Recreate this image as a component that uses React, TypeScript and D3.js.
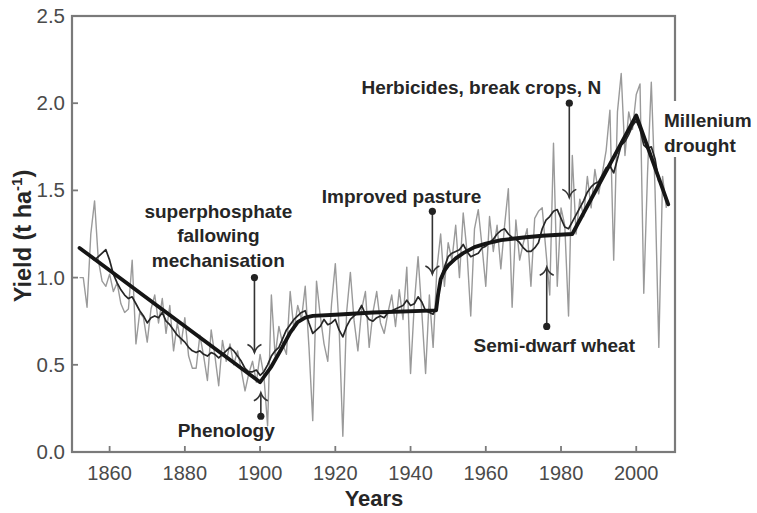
import React from "react";
import * as d3 from "d3";

// ---- data ----
const annualYears: number[] = d3.range(1852, 2009);
const annualYield: number[] = [
  1.0, 1.0, 0.83, 1.25, 1.44, 1.1, 0.98, 0.95, 1.02, 0.92, // 1852-1861
  0.97, 0.85, 0.8, 0.82, 1.1, 0.62, 0.8, 0.77, 0.63, 0.82, // 1862-1871
  0.9, 0.74, 0.88, 0.68, 0.84, 0.58, 0.74, 0.62, 0.77, 0.55, // 1872-1881
  0.48, 0.48, 0.67, 0.55, 0.41, 0.7, 0.55, 0.38, 0.64, 0.52, // 1882-1891
  0.62, 0.5, 0.58, 0.47, 0.35, 0.45, 0.52, 0.4, 0.56, 0.44, // 1892-1901
  0.15, 0.9, 0.55, 0.72, 0.62, 0.56, 0.92, 0.7, 0.84, 0.76, // 1902-1911
  0.95, 0.6, 0.18, 0.98, 0.78, 0.62, 0.52, 0.85, 1.08, 0.72, // 1912-1921
  0.09, 0.8, 1.03, 0.75, 0.58, 0.82, 0.92, 0.6, 0.8, 0.92, // 1922-1931
  0.74, 0.68, 0.8, 0.9, 0.72, 0.93, 0.76, 1.06, 0.45, 0.85, // 1932-1941
  1.12, 0.8, 0.45, 0.9, 0.6, 1.05, 1.25, 0.95, 1.2, 1.1, // 1942-1951
  1.3, 1.0, 1.37, 1.15, 0.78, 1.28, 1.39, 1.18, 0.95, 1.35, // 1952-1961
  1.15, 1.3, 1.05, 1.3, 1.51, 0.83, 1.33, 1.1, 1.2, 1.28, // 1962-1971
  0.95, 1.34, 1.38, 1.4, 1.15, 0.9, 1.77, 0.95, 1.4, 1.3, // 1972-1981
  0.78, 1.7, 1.25, 1.45, 1.35, 1.58, 1.4, 1.62, 1.48, 1.6, // 1982-1991
  1.73, 1.96, 1.1, 1.95, 2.17, 1.7, 1.95, 1.85, 2.05, 2.11, // 1992-2001
  0.91, 1.6, 2.12, 1.5, 0.6, 1.58, 1.4, // 2002-2008
];

const smoothYears: number[] = d3.range(1855, 2007);
const smoothYield: number[] = [
  1.12, 1.1, 1.12, 1.14, 1.16, 1.1, 1.02, 0.97, 0.93, 0.9, // 1855-1864
  0.88, 0.89, 0.85, 0.81, 0.78, 0.74, 0.77, 0.78, 0.77, 0.8, // 1865-1874
  0.75, 0.73, 0.7, 0.67, 0.65, 0.63, 0.6, 0.58, 0.57, 0.58, // 1875-1884
  0.56, 0.55, 0.57, 0.56, 0.54, 0.56, 0.58, 0.6, 0.58, 0.55, // 1885-1894
  0.52, 0.48, 0.46, 0.46, 0.47, 0.44, 0.46, 0.5, 0.55, 0.58, // 1895-1904
  0.6, 0.65, 0.7, 0.73, 0.76, 0.78, 0.8, 0.81, 0.74, 0.68, // 1905-1914
  0.7, 0.72, 0.76, 0.73, 0.74, 0.76, 0.7, 0.66, 0.72, 0.76, // 1915-1924
  0.78, 0.8, 0.84, 0.79, 0.76, 0.75, 0.77, 0.78, 0.77, 0.8, // 1925-1934
  0.81, 0.82, 0.83, 0.84, 0.87, 0.84, 0.85, 0.89, 0.86, 0.81, // 1935-1944
  0.8, 0.79, 0.84, 0.98, 1.06, 1.12, 1.14, 1.15, 1.16, 1.19, // 1945-1954
  1.15, 1.12, 1.13, 1.14, 1.17, 1.18, 1.2, 1.22, 1.25, 1.27, // 1955-1964
  1.28, 1.25, 1.23, 1.22, 1.2, 1.17, 1.15, 1.15, 1.17, 1.2, // 1965-1974
  1.28, 1.33, 1.35, 1.38, 1.39, 1.34, 1.29, 1.28, 1.32, 1.36, // 1975-1984
  1.4, 1.44, 1.49, 1.52, 1.54, 1.55, 1.59, 1.63, 1.64, 1.6, // 1985-1994
  1.68, 1.76, 1.78, 1.82, 1.87, 1.9, 1.85, 1.76, 1.74, 1.75, // 1995-2004
  1.68, 1.55, // 2005-2006
];

const trendYears: number[] = [
  1852, 1900, 1901, 1903, 1905.5, 1908, 1910, 1912, 1914, 1920, 1930, 1946.8,
  1947.3, 1948, 1949, 1950, 1952, 1954, 1957, 1960, 1964, 1970, 1975, 1983, 2000, 2008.5,
];
const trendYield: number[] = [
  1.17, 0.4, 0.43, 0.49, 0.585, 0.685, 0.745, 0.77, 0.78, 0.787, 0.8, 0.812,
  0.9, 0.99, 1.04, 1.07, 1.11, 1.14, 1.175, 1.195, 1.215, 1.23, 1.24, 1.25, 1.93, 1.42,
];

const xTicks: number[] = [1860, 1880, 1900, 1920, 1940, 1960, 1980, 2000];
const yTicks: number[] = [0, 0.5, 1.0, 1.5, 2.0, 2.5];

// annotations
const annoLabels: string[][] = [
  ["superphosphate", "fallowing", "mechanisation"],
  ["Phenology"],
  ["Improved pasture"],
  ["Herbicides, break crops, N"],
  ["Semi-dwarf wheat"],
];
const annoTextYear: number[] = [1888.9, 1891.0, 1937.6, 1958.8, 1978.2];
const annoTextVal: number[] = [1.343, 0.085, 1.43, 2.05, 0.575];
const arrowFromYear: number[] = [1898.5, 1900.2, 1945.8, 1982.2, 1976.2];
const arrowFromVal: number[] = [1.0, 0.205, 1.38, 2.0, 0.72];
const arrowToYear: number[] = [1898.5, 1900.2, 1945.8, 1982.2, 1976.2];
const arrowToVal: number[] = [0.57, 0.34, 1.02, 1.46, 1.06];

const W = 757;
const H = 513;
const M = { left: 72, right: 675, top: 16, bottom: 452 };

export default function App() {
  const x = d3.scaleLinear().domain([1850, 2010.3]).range([M.left, M.right]);
  const y = d3.scaleLinear().domain([0, 2.5]).range([M.bottom, M.top]);

  const line = d3
    .line<[number, number]>()
    .x((d) => x(d[0]))
    .y((d) => y(d[1]));

  const annual = line(annualYears.map((yr, i) => [yr, annualYield[i]]));
  const smooth = line(smoothYears.map((yr, i) => [yr, smoothYield[i]]));
  const trend = line(trendYears.map((yr, i) => [yr, trendYield[i]]));

  const font = "'Liberation Sans', Arial, sans-serif";
  const textCol = "#262626";
  const frameCol = "#7a7a7a";

  return (
    <svg
      width={W}
      height={H}
      style={{ position: "absolute", left: 0, top: 0, background: "#fff" }}
      fontFamily={font}
    >
      <rect x={0} y={0} width={W} height={H} fill="#fff" />
      {/* data */}
      <path d={annual || ""} fill="none" stroke="#9a9a9a" strokeWidth={1.4} strokeLinejoin="round" />
      <path d={smooth || ""} fill="none" stroke="#262626" strokeWidth={1.7} strokeLinejoin="round" />
      <path d={trend || ""} fill="none" stroke="#151515" strokeWidth={3.8} strokeLinejoin="round" strokeLinecap="round" />

      {/* frame */}
      <rect
        x={M.left}
        y={M.top}
        width={M.right - M.left}
        height={M.bottom - M.top}
        fill="none"
        stroke={frameCol}
        strokeWidth={2.2}
      />
      {/* x ticks */}
      {xTicks.map((t) => (
        <g key={"x" + t}>
          <line x1={x(t)} x2={x(t)} y1={M.bottom} y2={M.bottom - 6} stroke={frameCol} strokeWidth={1.8} />
          <text x={x(t)} y={480} textAnchor="middle" fontSize={20} fill="#4a4a4a">
            {t}
          </text>
        </g>
      ))}
      {/* y ticks */}
      {yTicks.map((t) => (
        <g key={"y" + t}>
          <line x1={M.left} x2={M.left + 6} y1={y(t)} y2={y(t)} stroke={frameCol} strokeWidth={1.8} />
          <text x={65} y={y(t) + 7} textAnchor="end" fontSize={20.5} fill="#4a4a4a">
            {d3.format(".1f")(t)}
          </text>
        </g>
      ))}

      {/* axis titles */}
      <text x={374} y={506} textAnchor="middle" fontSize={22} fontWeight="bold" fill={textCol}>
        Years
      </text>
      <text
        transform={`translate(31, 236) rotate(-90)`}
        textAnchor="middle"
        fontSize={23.5}
        fontWeight="bold"
        fill={textCol}
      >
        Yield (t ha
        <tspan fontSize={15} dy={-9}>
          -1
        </tspan>
        <tspan dy={9}>)</tspan>
      </text>

      {/* annotation arrows */}
      {arrowFromYear.map((fy, i) => {
        const x1 = x(fy);
        const y1 = y(arrowFromVal[i]);
        const x2 = x(arrowToYear[i]);
        const y2 = y(arrowToVal[i]);
        const dir = y2 > y1 ? 1 : -1;
        return (
          <g key={"a" + i} stroke="#333" fill="none">
            <line x1={x1} y1={y1} x2={x2} y2={y2} strokeWidth={1.6} />
            <path
              d={`M${x2 - 7},${y2 - dir * 8} Q${x2 - 2},${y2 - dir * 6} ${x2},${y2} Q${x2 + 2},${y2 - dir * 6} ${x2 + 7},${y2 - dir * 8}`}
              strokeWidth={1.6}
            />
            <circle cx={x1} cy={y1} r={3.6} fill="#222" stroke="none" />
          </g>
        );
      })}

      {/* annotation labels */}
      {annoLabels.map((lines, i) => (
        <text
          key={"t" + i}
          x={x(annoTextYear[i])}
          y={y(annoTextVal[i])}
          textAnchor="middle"
          fontSize={19}
          fontWeight="bold"
          fill={textCol}
        >
          {lines.map((l, j) => (
            <tspan key={j} x={x(annoTextYear[i])} dy={j === 0 ? 0 : 24.5}>
              {l}
            </tspan>
          ))}
        </text>
      ))}

      {/* Millenium drought with white background over frame */}
      <rect x={661} y={101} width={96} height={56} fill="#fff" />
      <text x={664} y={127} fontSize={19} fontWeight="bold" fill={textCol}>
        <tspan x={664}>Millenium</tspan>
        <tspan x={664} dy={24.5}>
          drought
        </tspan>
      </text>
    </svg>
  );
}
